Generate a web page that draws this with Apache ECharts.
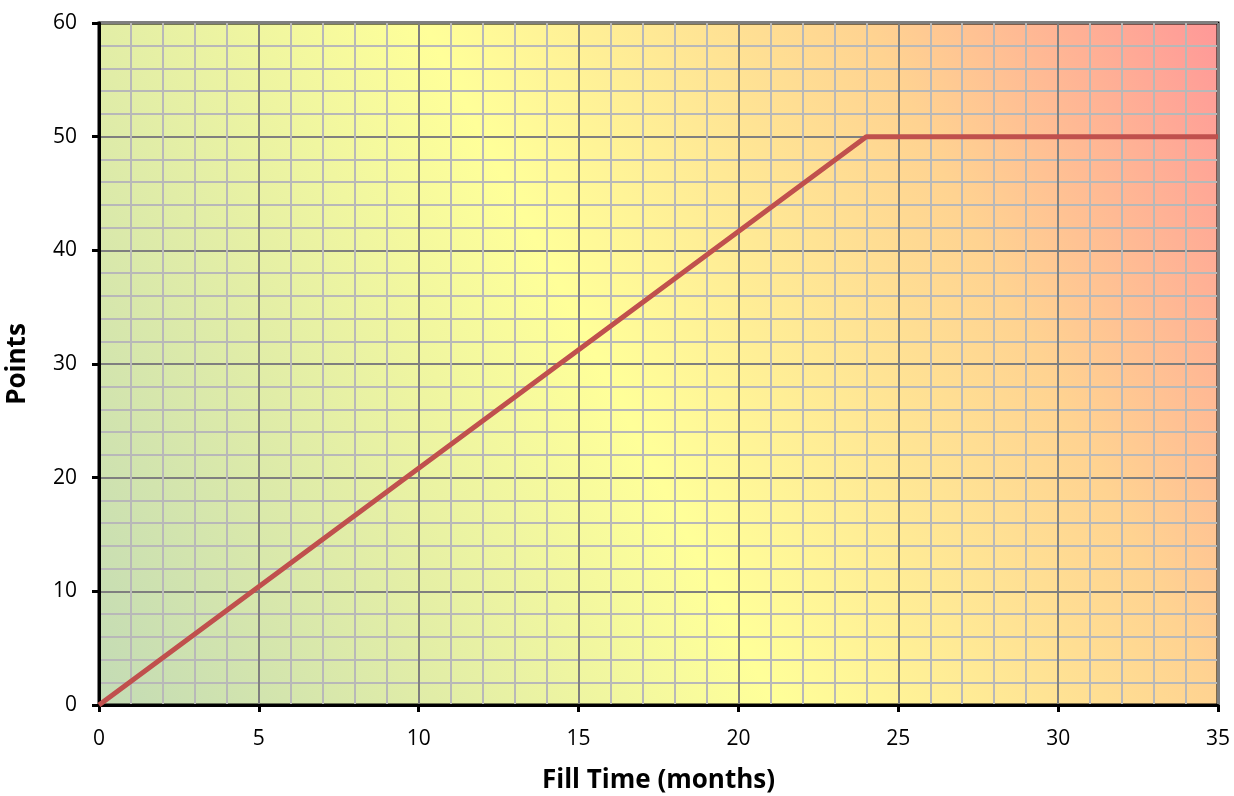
<!DOCTYPE html>
<html>
<head>
<meta charset="utf-8">
<script src="https://cdn.jsdelivr.net/npm/echarts@6/dist/echarts.min.js"></script>
<style>html,body{margin:0;padding:0;background:#fff}#c{width:1234px;height:796px}</style>
</head>
<body>
<div id="c"></div>
<script>
var months = [0, 24, 35];
var points = [0, 50, 50];
var xTitle = 'Fill Time (months)';
var yTitle = 'Points';

var chart = echarts.init(document.getElementById('c'));
var font = '"Open Sans", "Liberation Sans", sans-serif';
chart.setOption({
  animation: false,
  grid: {
    left: 99, right: 16, top: 23, bottom: 91,
    containLabel: false,
    outerBoundsMode: 'none',
    show: true,
    borderColor: '#000', borderWidth: 3,
    backgroundColor: new echarts.graphic.LinearGradient(0, 1, 1.039, 0.125, [
      {offset: 0, color: '#c3dbb5'},
      {offset: 0.46, color: '#ffff99'},
      {offset: 0.76, color: '#ffd391'},
      {offset: 1, color: '#ff9898'}
    ])
  },
  xAxis: {
    type: 'value', min: 0, max: 35, interval: 5,
    name: xTitle, nameLocation: 'middle', nameGap: 63,
    nameTextStyle: {fontFamily: font, fontWeight: 'bold', fontSize: 26, color: '#000'},
    axisLine: {show: true, lineStyle: {color: '#000', width: 3}},
    axisTick: {show: true, length: 7, lineStyle: {color: '#000', width: 3}},
    axisLabel: {fontFamily: font, fontSize: 21, color: '#000', margin: 24},
    splitLine: {show: true, lineStyle: {color: '#7f7f7f', width: 2}},
    minorTick: {show: false, splitNumber: 5},
    minorSplitLine: {show: true, lineStyle: {color: '#b8b8b8', width: 2}}
  },
  yAxis: {
    type: 'value', min: 0, max: 60, interval: 10,
    name: yTitle, nameLocation: 'middle', nameGap: 68,
    nameTextStyle: {fontFamily: font, fontWeight: 'bold', fontSize: 26, color: '#000'},
    axisLine: {show: true, lineStyle: {color: '#000', width: 3}},
    axisTick: {show: true, length: 7, lineStyle: {color: '#000', width: 3}},
    axisLabel: {fontFamily: font, fontSize: 21, color: '#000', margin: 22},
    splitLine: {show: true, lineStyle: {color: '#7f7f7f', width: 2}},
    minorTick: {show: false, splitNumber: 5},
    minorSplitLine: {show: true, lineStyle: {color: '#b8b8b8', width: 2}}
  },
  series: [{
    type: 'line',
    data: months.map(function (m, i) { return [m, points[i]]; }),
    symbol: 'none',
    lineStyle: {color: '#c0504d', width: 5},
    clip: true
  }]
});
</script>
</body>
</html>
